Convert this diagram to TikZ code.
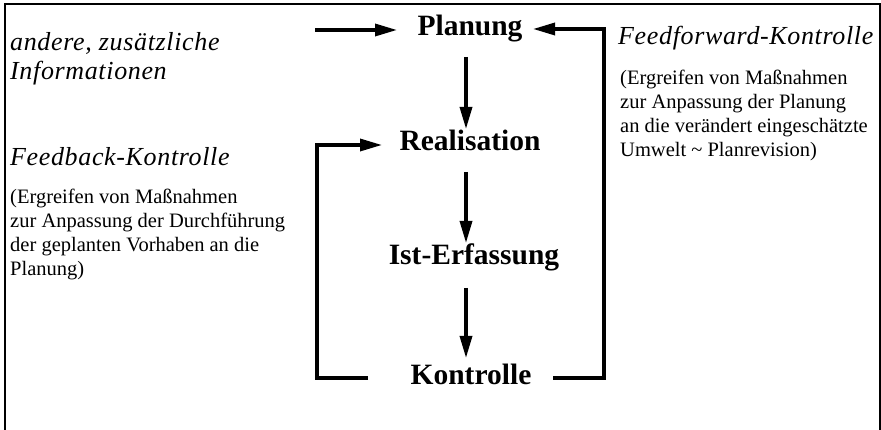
\documentclass[tikz,border=0pt]{standalone}
\usepackage{fontspec}
\setmainfont{Liberation Serif}
\usetikzlibrary{arrows.meta}
\begin{document}
\begin{tikzpicture}[x=1pt,y=-1pt,
  conn/.style={line width=3.3pt,-{Triangle[length=22pt,width=12pt]}},
  stage/.style={font=\fontsize{29.5}{32}\selectfont\bfseries,anchor=base,inner sep=0pt},
  head/.style={font=\fontsize{26}{30}\selectfont\itshape\addfontfeature{LetterSpace=2.5},anchor=base west,inner sep=0pt},
  body/.style={font=\fontsize{20.5}{24}\selectfont,anchor=base west,inner sep=0pt,align=left}]
\useasboundingbox (0,0) rectangle (881,430);
\draw[line width=1.5pt] (5,440) -- (5,4) -- (880,4) -- (880,440);
% stages
\node[stage] (plan) at (470,36) {Planung};
\node[stage] (real) at (470,151) {Realisation};
\node[stage] (ist) at (474,265) {Ist-Erfassung};
\node[stage] (kon) at (471,384) {Kontrolle};
% side texts
\node[head] (andere) at (10,51) {andere, zusätzliche};
\node[head] (info) at (10,80) {Informationen};
\node[head] (fb) at (10,166) {Feedback-Kontrolle};
\node[body] (fbtext) at (10,276) {(Ergreifen von Maßnahmen\\zur Anpassung der Durchführung\\der geplanten Vorhaben an die\\Planung)};
\node[head] (ff) at (618,45) {Feedforward-Kontrolle};
\node[body] (fftext) at (620,157) {(Ergreifen von Maßnahmen\\zur Anpassung der Planung\\an die verändert eingeschätzte\\Umwelt \textasciitilde{} Planrevision)};
% coordinates
\coordinate (inS) at (315,30);
\coordinate (inE) at (397,30);
\coordinate (ffA) at (553,378);
\coordinate (ffB) at (604,378);
\coordinate (ffC) at (604,29);
\coordinate (ffE) at (533,29);
\coordinate (fbA) at (368,378);
\coordinate (fbB) at (317,378);
\coordinate (fbC) at (317,145);
\coordinate (fbE) at (382,145);
\coordinate (a1s) at (466,57);
\coordinate (a1e) at (466,129);
\coordinate (a2s) at (466,172);
\coordinate (a2e) at (466,243);
\coordinate (a3s) at (466,288);
\coordinate (a3e) at (466,358);
% connectors
\draw[conn] (inS) -- (inE);
\draw[conn] (ffA) -- (ffB) -- (ffC) -- (ffE);
\draw[conn] (fbA) -- (fbB) -- (fbC) -- (fbE);
\draw[conn] (a1s) -- (a1e);
\draw[conn] (a2s) -- (a2e);
\draw[conn] (a3s) -- (a3e);
\end{tikzpicture}
\end{document}
